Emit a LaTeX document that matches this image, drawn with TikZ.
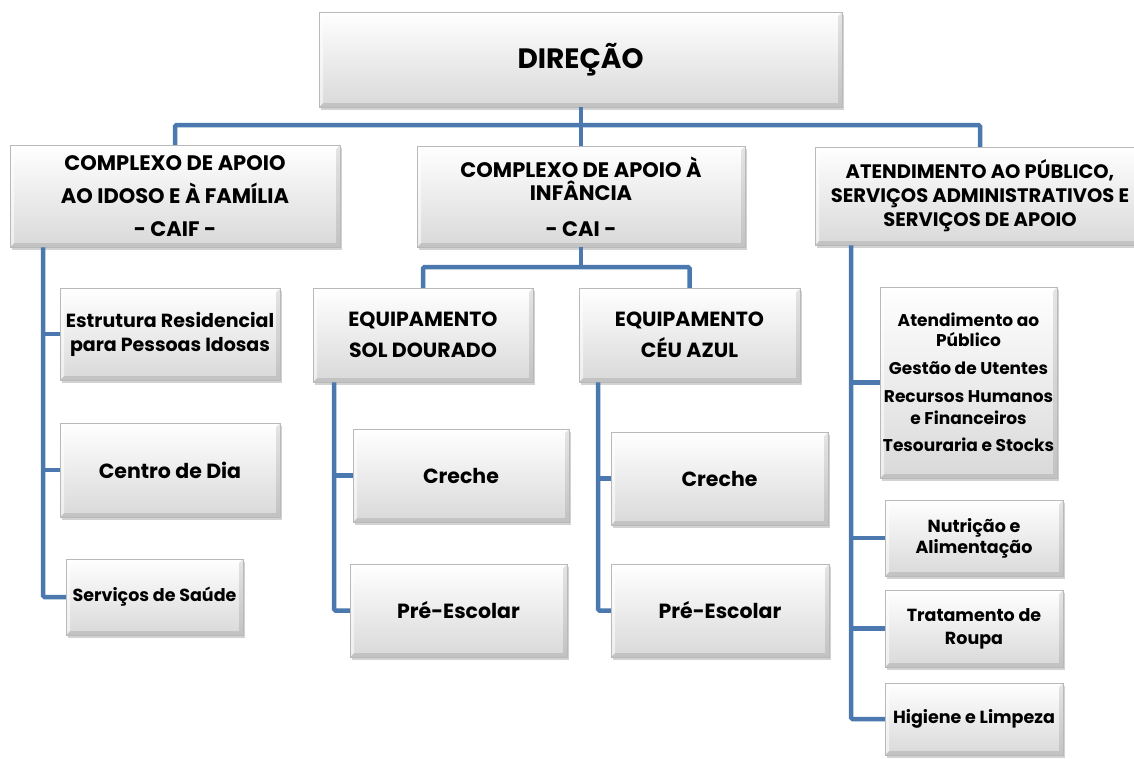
\documentclass[tikz,border=0pt]{standalone}
\usepackage{fontspec}
\setmainfont{Poppins}
\usetikzlibrary{shadows,calc}
\definecolor{connc}{RGB}{74,120,175}
\tikzset{
  bevel/.style={path picture={
    \path (path picture bounding box.south west) coordinate (bsw)
          (path picture bounding box.north east) coordinate (bne);
    \path ($(bsw)+(4pt,4pt)$) coordinate (isw) ($(bne)+(-4pt,-4pt)$) coordinate (ine);
    \fill[black,opacity=.10] (bsw) -- (bsw -| bne) -- (bne) -- (ine) -- (ine |- isw) -- (isw) -- cycle;
    \fill[white,opacity=.55] (bsw) -- (isw) -- (isw |- ine) -- (ine) -- (bne) -- (bsw |- bne) -- cycle;
  }},
  box/.style={rectangle, draw=gray!55, line width=0.5pt, top color=white, bottom color=gray!30,
    drop shadow={shadow xshift=1.5pt, shadow yshift=-3pt, opacity=0.35},
    bevel, align=center, inner sep=0pt, text=black},
  conn/.style={draw=connc, line width=4.5pt, rounded corners=1.5pt},
  fa/.style={font=\fontsize{28}{32}\selectfont\bfseries},
  fb/.style={font=\fontsize{21}{24}\selectfont\bfseries},
  fg/.style={font=\fontsize{19.5}{24}\selectfont\bfseries},
  fc/.style={font=\fontsize{20.5}{24}\selectfont\bfseries},
  fr/.style={font=\fontsize{19}{24}\selectfont\bfseries},
  fd/.style={font=\fontsize{17}{21}\selectfont\bfseries},
  fe/.style={font=\fontsize{17.5}{22}\selectfont\bfseries},
}
\begin{document}
\begin{tikzpicture}[x=1pt,y=-1pt]
\useasboundingbox (0,0) rectangle (1134,758);
\fill[white] (0,0) rectangle (1134,758);
% level 1
\node[box,fa,minimum width=523pt,minimum height=95pt] (dir) at (580.5,59.5) {DIREÇÃO};
% level 2
\node[box,fb,minimum width=330pt,minimum height=102pt] (caif) at (175,196)
  {COMPLEXO DE APOIO\\[9pt]AO IDOSO E À FAMÍLIA\\[9pt]- CAIF -};
\node[box,fb,minimum width=328pt,minimum height=101pt] (cai) at (581,196.5)
  {COMPLEXO DE APOIO À\\[-1pt]INFÂNCIA\\[12pt]- CAI -};
\node[box,fg,minimum width=330pt,minimum height=98pt] (aps) at (980,196)
  {ATENDIMENTO AO PÚBLICO,\\SERVIÇOS ADMINISTRATIVOS E\\SERVIÇOS DE APOIO};
% level 3 - CAIF
\node[box,fr,minimum width=220pt,minimum height=92pt] (res) at (170,334)
  {Estrutura Residencial\\para Pessoas Idosas};
\node[box,fc,minimum width=220pt,minimum height=94pt] (dia) at (170,470) {Centro de Dia};
\node[box,fe,minimum width=177pt,minimum height=76pt] (sau) at (154.5,597) {Serviços de Saúde};
% level 3 - CAI
\node[box,fc,minimum width=220pt,minimum height=94pt] (sol) at (423,335)
  {EQUIPAMENTO\\[7pt]SOL DOURADO};
\node[box,fc,minimum width=221pt,minimum height=94pt] (ceu) at (689.5,335)
  {EQUIPAMENTO\\[7pt]CÉU AZUL};
\node[box,fc,minimum width=216pt,minimum height=93pt] (cr1) at (461,475.5) {Creche};
\node[box,fc,minimum width=217pt,minimum height=93pt] (pe1) at (458.5,610.5) {Pré-Escolar};
\node[box,fc,minimum width=217pt,minimum height=93pt] (cr2) at (719.5,478.5) {Creche};
\node[box,fc,minimum width=218pt,minimum height=93pt] (pe2) at (720,610.5) {Pré-Escolar};
% level 3 - services
\node[box,fd,minimum width=177pt,minimum height=191pt] (lst) at (968.5,382.5)
  {Atendimento ao\\[-1pt]Público\\[7pt]Gestão de Utentes\\[7pt]Recursos Humanos\\[1pt]e Financeiros\\[6pt]Tesouraria e Stocks};
\node[box,fe,minimum width=178pt,minimum height=76pt] (nut) at (974,538)
  {Nutrição e\\[-1pt]Alimentação};
\node[box,fe,minimum width=178pt,minimum height=77pt] (tra) at (974,628.5)
  {Tratamento de\\[1pt]Roupa};
\node[box,fe,minimum width=178pt,minimum height=72pt] (hig) at (974,719) {Higiene e Limpeza};
% connectors
\coordinate (bus) at (0,125);
\coordinate (bus2) at (0,267);
\coordinate (t1) at (43,0);
\coordinate (t2) at (334,0);
\coordinate (t3) at (598,0);
\coordinate (t4) at (851,0);
\draw[conn] (dir.south -| cai.north) -- (cai.north);
\draw[conn] (caif.north) -- (caif.north |- bus) -- (aps.north |- bus) -- (aps.north);
\draw[conn] (caif.south -| t1) |- (sau.west);
\draw[conn] (t1 |- res.west) -- (res.west);
\draw[conn] (t1 |- dia.west) -- (dia.west);
\draw[conn] (cai.south) -- (cai.south |- bus2);
\draw[conn] (sol.north) -- (sol.north |- bus2) -- (ceu.north |- bus2) -- (ceu.north);
\draw[conn] (sol.south -| t2) |- (pe1.west);
\draw[conn] (t2 |- cr1.west) -- (cr1.west);
\draw[conn] (ceu.south -| t3) |- (pe2.west);
\draw[conn] (t3 |- cr2.west) -- (cr2.west);
\draw[conn] (aps.south -| t4) |- (hig.west);
\draw[conn] (t4 |- lst.west) -- (lst.west);
\draw[conn] (t4 |- nut.west) -- (nut.west);
\draw[conn] (t4 |- tra.west) -- (tra.west);
\end{tikzpicture}
\end{document}
